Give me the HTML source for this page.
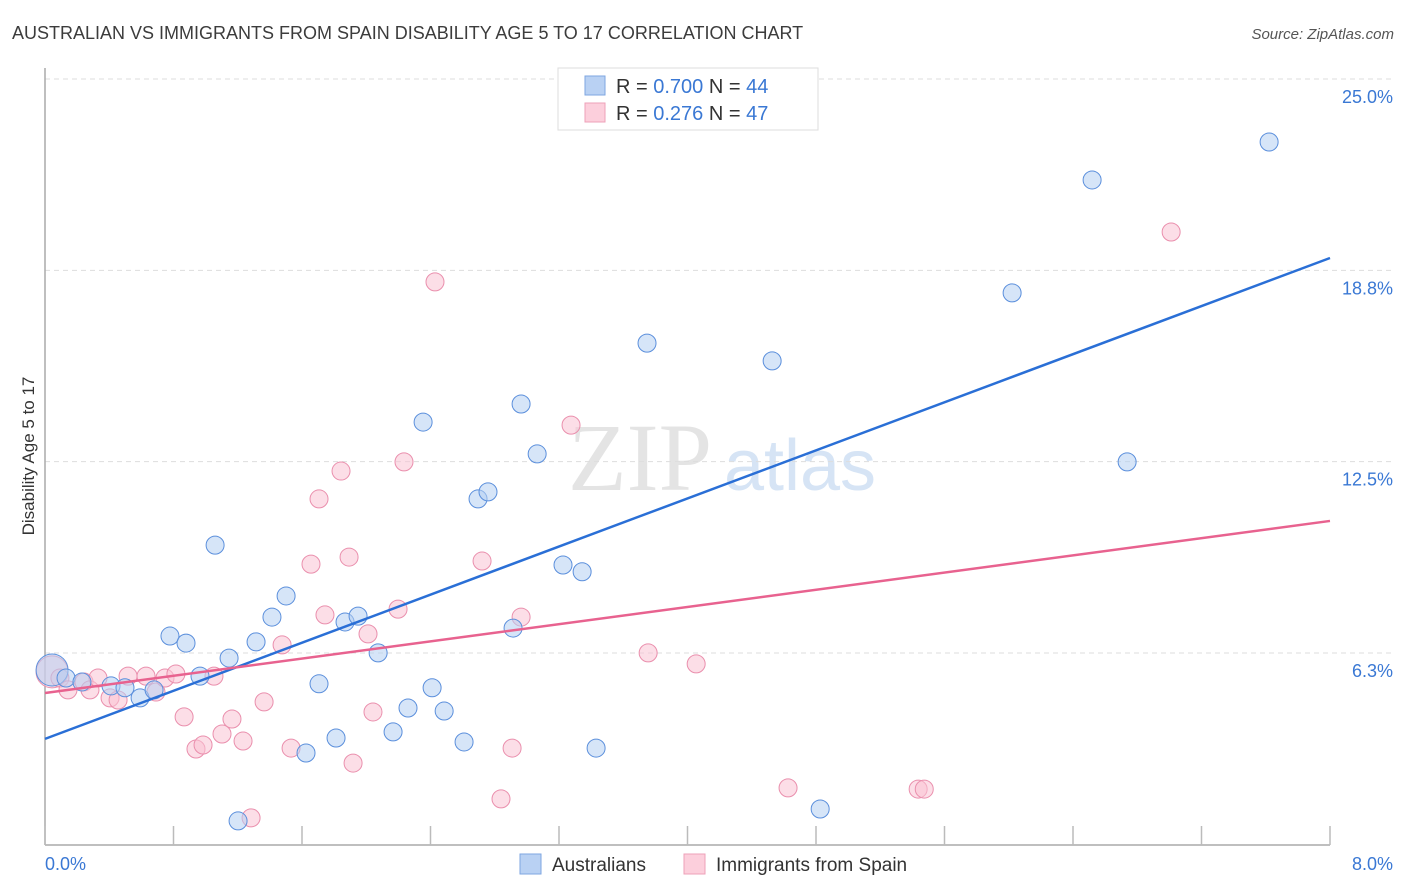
<!DOCTYPE html>
<html><head><meta charset="utf-8">
<style>
body{margin:0;background:#fff;font-family:"Liberation Sans",sans-serif;}
svg{display:block}
</style></head>
<body>
<svg id="chart" width="1406" height="892" xmlns="http://www.w3.org/2000/svg">
<text x="12" y="39" font-size="18" fill="#3c3c3c">AUSTRALIAN VS IMMIGRANTS FROM SPAIN DISABILITY AGE 5 TO 17 CORRELATION CHART</text>
<text x="1394" y="39" font-size="15" fill="#555" font-style="italic" text-anchor="end">Source: ZipAtlas.com</text>
<text x="640" y="490" font-size="96" fill="#e4e4e4" font-family="Liberation Serif,serif" text-anchor="middle">ZIP</text>
<text x="800" y="490" font-size="72" fill="#d6e4f5" text-anchor="middle">atlas</text>
<g id="grid"></g>
<g id="axes"></g>
<g id="marks"></g>
<text transform="translate(34,456) rotate(-90)" font-size="17" fill="#333" text-anchor="middle">Disability Age 5 to 17</text>
<text x="45" y="870" font-size="18" fill="#3a78d4">0.0%</text>
<text x="1393" y="870" font-size="18" fill="#3a78d4" text-anchor="end">8.0%</text>
<g>
<rect x="558" y="68" width="260" height="62" fill="#fff" stroke="#ddd"/>
<rect x="585" y="76" width="20" height="19" fill="#b9d1f3" stroke="#7ea6e0"/>
<text x="616" y="93" font-size="20" fill="#333">R = <tspan fill="#3a78d4">0.700</tspan>   N = <tspan fill="#3a78d4">44</tspan></text>
<rect x="585" y="103" width="20" height="19" fill="#fccfdc" stroke="#eea0b8"/>
<text x="616" y="120" font-size="20" fill="#333">R =  <tspan fill="#3a78d4">0.276</tspan>   N = <tspan fill="#3a78d4">47</tspan></text>
</g>
<g>
<rect x="520" y="854" width="21" height="20" fill="#b9d1f3" stroke="#7ea6e0"/>
<text x="552" y="871" font-size="19" fill="#333">Australians</text>
<rect x="684" y="854" width="21" height="20" fill="#fccfdc" stroke="#eea0b8"/>
<text x="716" y="871" font-size="19" fill="#333">Immigrants from Spain</text>
</g>
</svg>
<script>
const yTicks=[6.25,12.5,18.75,25];
const yTickLabels=["6.3%","12.5%","18.8%","25.0%"];
const blueX=[0.044,0.131,0.23,0.411,0.498,0.592,0.679,0.778,0.878,0.965,1.059,1.146,1.314,1.413,1.501,1.625,1.706,1.812,1.868,1.949,2.074,2.167,2.26,2.354,2.41,2.485,2.609,2.696,2.758,2.914,2.964,3.064,3.225,3.344,3.431,3.748,4.527,4.826,6.021,6.519,6.737,7.621,1.202];
const blueY=[6.28,6.02,5.89,5.76,5.70,5.37,5.63,7.39,7.16,6.08,10.36,6.67,7.20,8.01,8.70,3.57,5.83,4.06,7.85,8.04,6.84,4.26,5.04,14.38,5.70,4.94,3.93,11.87,12.10,7.65,14.97,13.34,9.71,9.49,3.73,16.96,16.38,1.74,18.60,22.29,13.08,23.53,1.35];
const pinkX=[0.044,0.093,0.143,0.243,0.28,0.33,0.405,0.455,0.517,0.629,0.691,0.747,0.815,0.866,0.94,0.984,1.052,1.102,1.164,1.233,1.283,1.364,1.476,1.532,1.656,1.706,1.743,1.843,1.893,1.918,2.011,2.042,2.198,2.235,2.428,2.721,2.839,2.908,2.964,3.275,3.755,4.054,4.626,5.436,5.474,7.011];
const pinkY=[6.22,6.02,5.63,5.89,5.63,6.02,5.37,5.30,6.08,6.08,5.56,6.02,6.15,4.75,3.70,3.83,6.08,4.19,4.68,3.96,1.45,5.24,7.10,3.73,9.74,11.87,8.08,12.78,9.97,3.24,7.46,4.91,8.27,13.08,18.96,9.84,2.07,3.73,8.01,14.28,6.84,6.48,2.43,2.39,2.39,20.59];
const blueTrend=[4.03,19.74];
const pinkTrend=[5.53,11.15];
const xDomain=[0,8];
const NS="http://www.w3.org/2000/svg";
const X=v=>45+(v-xDomain[0])/(xDomain[1]-xDomain[0])*1285;
const Y=v=>97+(25-v)*30.61;
function mk(tag,attrs,parent){const e=document.createElementNS(NS,tag);for(const k in attrs)e.setAttribute(k,attrs[k]);parent.appendChild(e);return e;}
const grid=document.getElementById('grid'),axes=document.getElementById('axes'),marks=document.getElementById('marks');
yTicks.forEach((t,i)=>{
 const l=mk('line',{x1:45,x2:1395,y1:Y(t)-18,y2:Y(t)-18,stroke:'#ddd','stroke-dasharray':'5,4'},grid);
 
 
 const tx=mk('text',{x:1393,y:Y(t)+6,'font-size':18,fill:'#3a78d4','text-anchor':'end'},grid);
 tx.textContent=yTickLabels[i];
 
 
});
const ax=mk('line',{x1:45,x2:45,y1:68,y2:845,stroke:'#aaa','stroke-width':1.5},axes);


const bx=mk('line',{x1:45,x2:1330,y1:845,y2:845,stroke:'#aaa','stroke-width':1.5},axes);


for(let i=0;i<=10;i++){
 const t=mk('line',{x1:X(i*0.8),x2:X(i*0.8),y1:826,y2:845,stroke:'#bbb','stroke-width':1.5},axes);
 
 
}
function dots(xs,ys,fill,stroke,name){
 xs.forEach((x,i)=>{
  const c=mk('circle',{cx:X(x),cy:Y(ys[i]),r:i===0?16:9,fill:fill,'fill-opacity':0.55,stroke:stroke,'stroke-width':1},marks);
  
  
 });
}
dots(pinkX,pinkY,'#f9c3d4','#ea8fad','spain-point');
dots(blueX,blueY,'#b5cff2','#5b8fdc','australians-point');
const bl=mk('line',{x1:X(xDomain[0]),y1:Y(blueTrend[0]),x2:X(xDomain[1]),y2:Y(blueTrend[1]),stroke:'#2a6fd6','stroke-width':2.5},marks);


const pl=mk('line',{x1:X(xDomain[0]),y1:Y(pinkTrend[0]),x2:X(xDomain[1]),y2:Y(pinkTrend[1]),stroke:'#e8628f','stroke-width':2.5},marks);


</script>
</body></html>
